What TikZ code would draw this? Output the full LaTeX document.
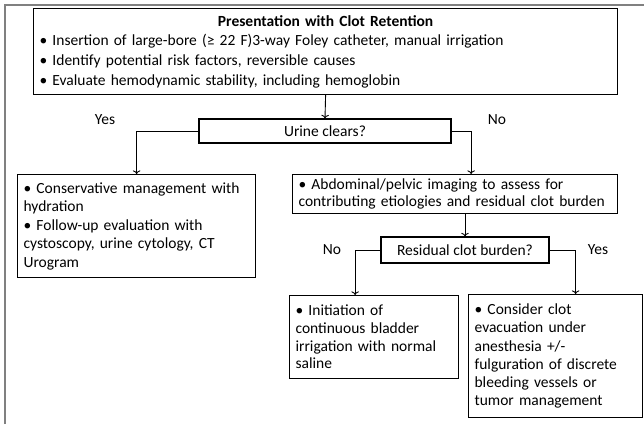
\documentclass[tikz,border=0pt]{standalone}
\usepackage{fontspec}
\setmainfont{Carlito}
\usetikzlibrary{arrows.meta}

\begin{document}
\begin{tikzpicture}[x=1pt, y=-1pt,
  box/.style={draw, line width=1.2pt, inner xsep=6pt, inner ysep=3pt, align=left, anchor=north west},
  ask/.style={draw, line width=1.2pt, font=\fontsize{15.5}{18}\selectfont},
  lbl/.style={font=\fontsize{15.5}{18}\selectfont},
  link/.style={->, line width=0.9pt}]
\useasboundingbox (0,0) rectangle (644,424);
\draw[gray, line width=1.5pt] (5,424) -- (5,5) -- (644,5);

\node[box, minimum height=86, text width=572, font=\fontsize{15.5}{19.7}\selectfont] (pres) at (33,8)
  {\makebox[\hsize][c]{\bfseries Presentation with Clot Retention}\\
   \textbullet\ Insertion of large-bore (≥ 22 F)3-way Foley catheter, manual irrigation\\
   \textbullet\ Identify potential risk factors, reversible causes\\
   \textbullet\ Evaluate hemodynamic stability, including hemoglobin};
\node[ask, minimum width=252, minimum height=24] (urine) at (325,131) {Urine clears?};
\node[box, minimum height=103, text width=226, font=\fontsize{15.5}{18.5}\selectfont] (cons) at (17,174)
  {\textbullet\ Conservative management with\\
   hydration\\
   \textbullet\ Follow-up evaluation with\\
   cystoscopy, urine cytology, CT\\
   Urogram};
\node[box, minimum height=39, text width=313, font=\fontsize{15.5}{16.5}\selectfont] (img) at (292,174)
  {\textbullet\ Abdominal/pelvic imaging to assess for\\
   contributing etiologies and residual clot burden};
\node[ask, minimum width=168, minimum height=26] (resid) at (465,250) {Residual clot burden?};
\node[box, minimum height=83, text width=157, font=\fontsize{15.5}{17.7}\selectfont] (cbi) at (289,295)
  {\textbullet\ Initiation of\\
   continuous bladder\\
   irrigation with normal\\
   saline};
\node[box, minimum height=123, text width=162, font=\fontsize{15.5}{18.2}\selectfont] (evac) at (468,294)
  {\textbullet\ Consider clot\\
   evacuation under\\
   anesthesia +/-\\
   fulguration of discrete\\
   bleeding vessels or\\
   tumor management};

\node[lbl] (yes1) at (105,120) {Yes};
\node[lbl] (no1) at (497,120) {No};
\node[lbl] (no2) at (332,250) {No};
\node[lbl] (yes2) at (598,250) {Yes};

\draw[link] (pres.south) -- (urine.north);
\draw[link] (urine.west) -| (cons.north);
\draw[link] (urine.east) -| ([xshift=16pt]img.north);
\draw[link] (resid.north |- img.south) -- (resid.north);
\draw[link] (resid.west) -| ([xshift=-19pt]cbi.north);
\draw[link] (resid.east) -| ([xshift=20pt]evac.north);
\end{tikzpicture}
\end{document}
